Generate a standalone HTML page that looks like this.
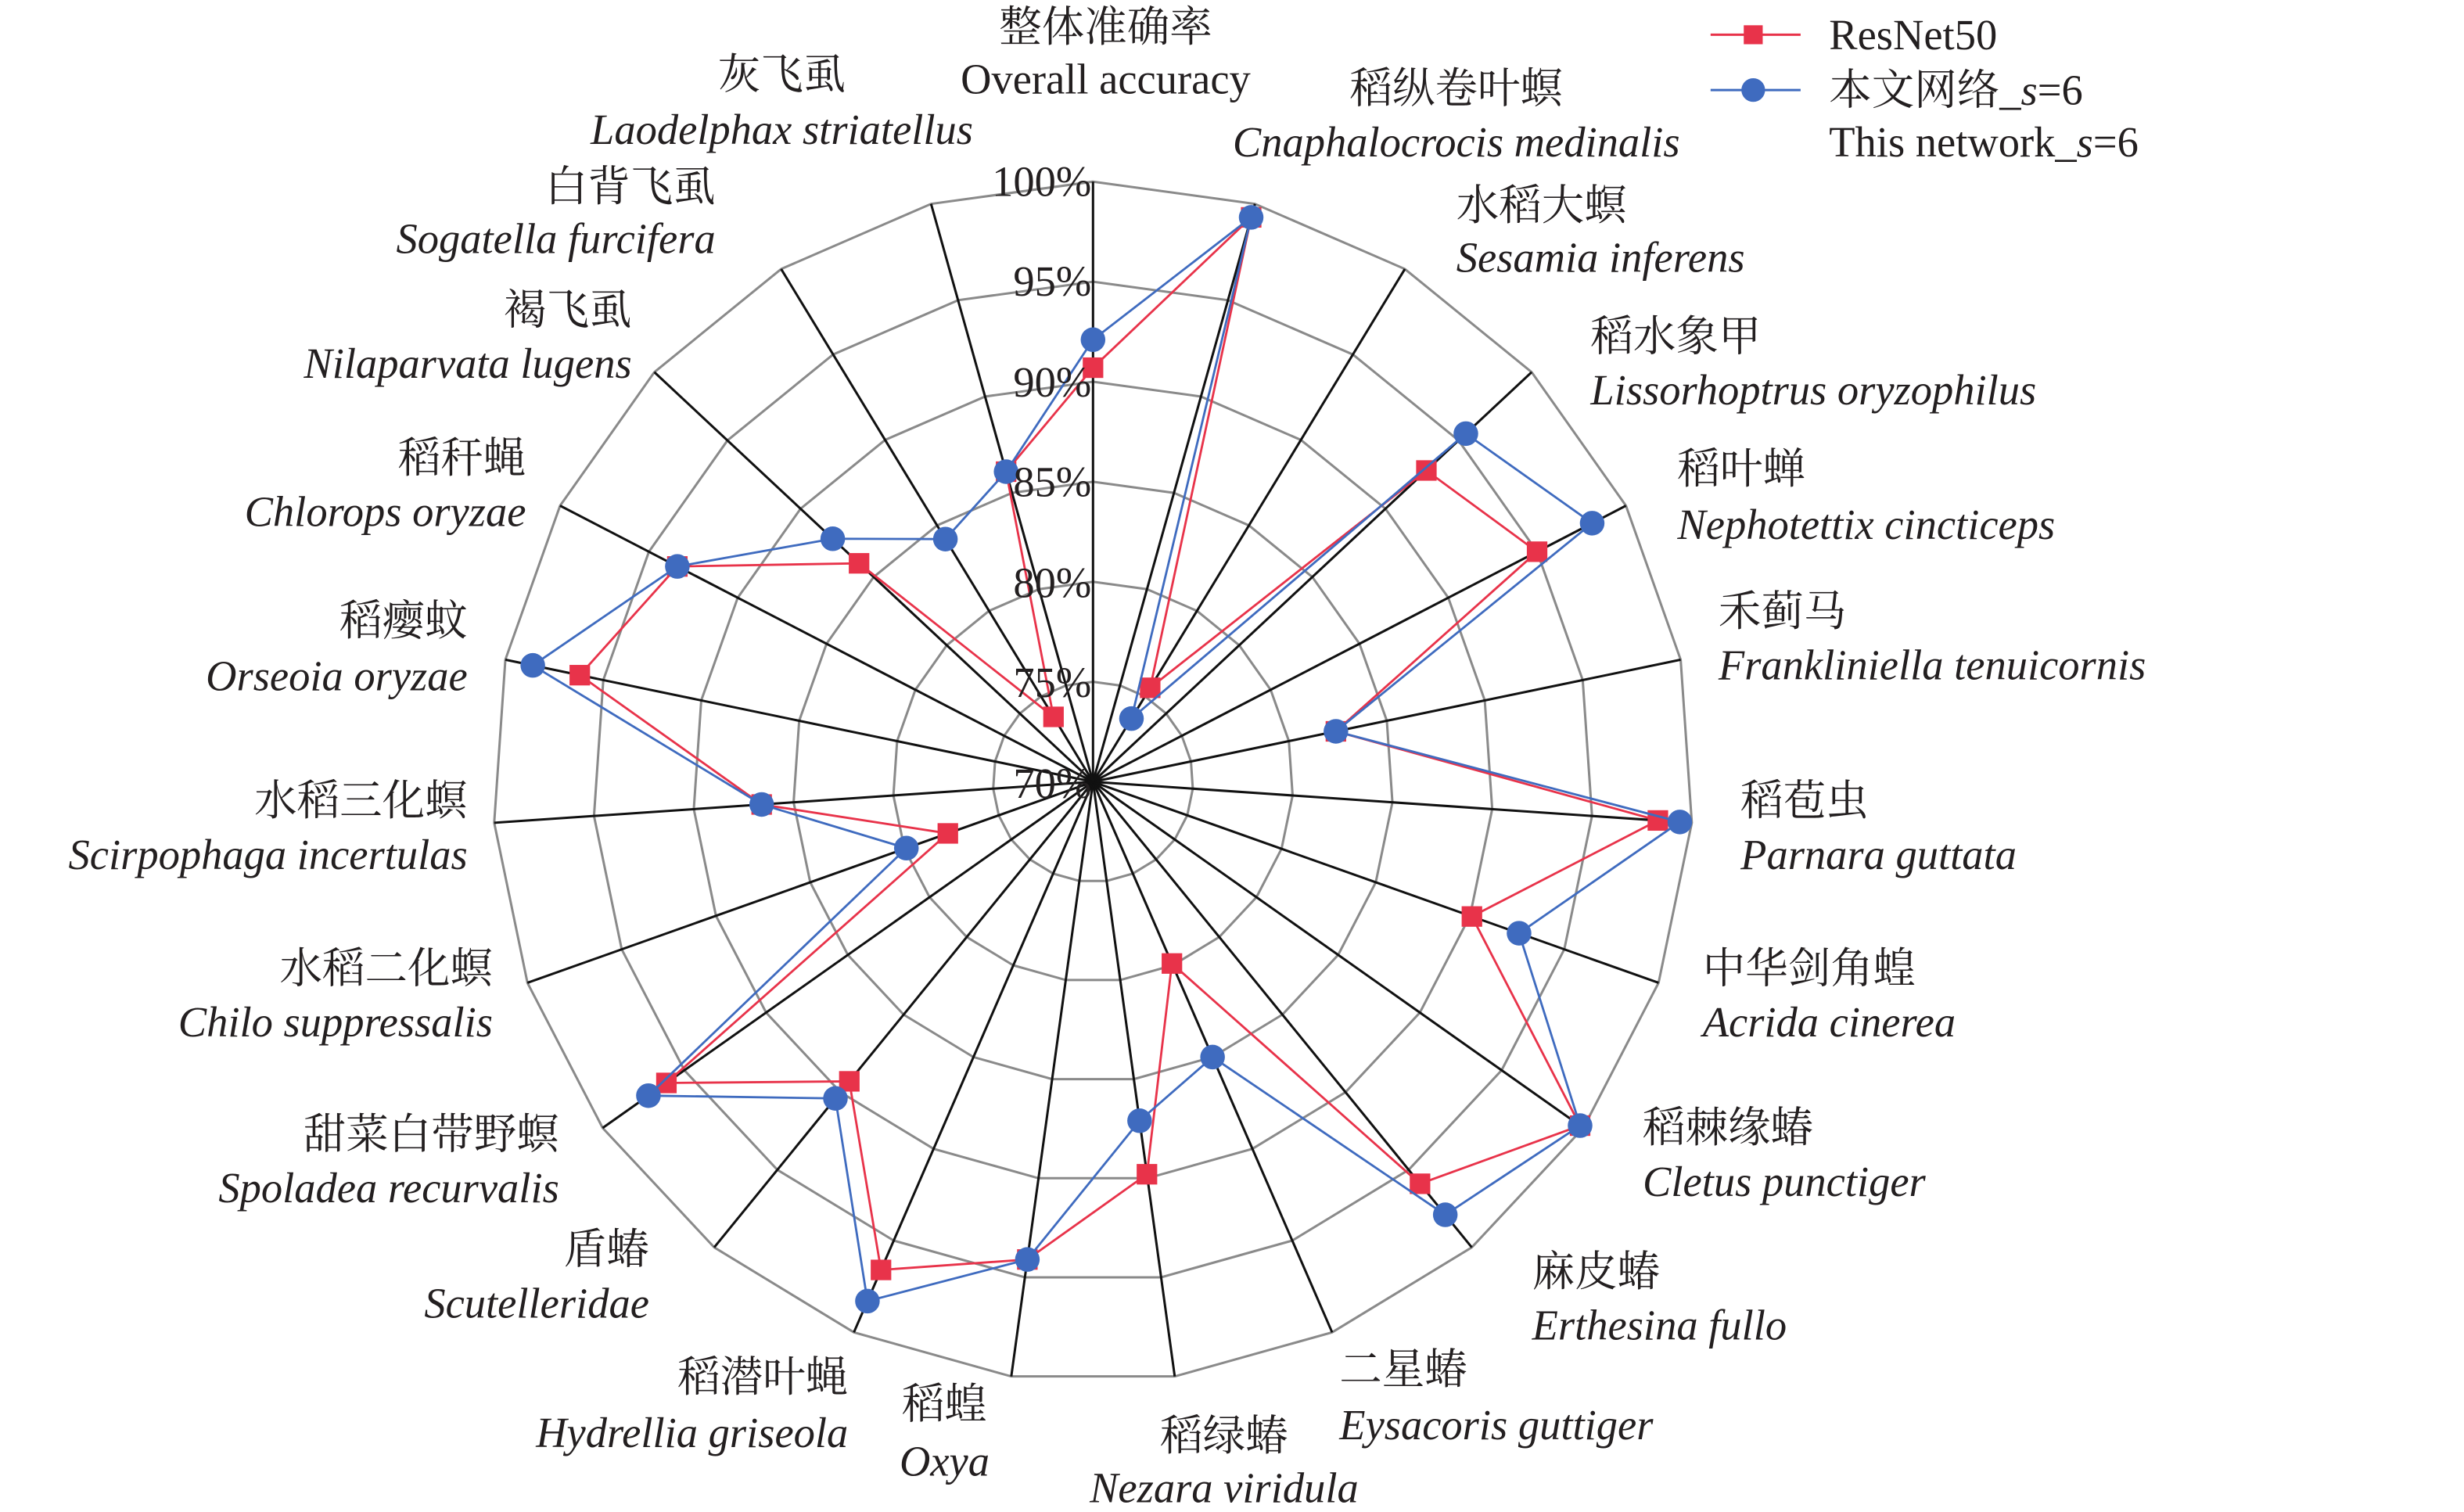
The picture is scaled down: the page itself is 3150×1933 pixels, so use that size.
<!DOCTYPE html>
<html><head><meta charset="utf-8"><style>
html,body{margin:0;padding:0;background:#fff;}
svg{display:block;}
text{font-family:"Liberation Serif","Noto Serif CJK SC",serif;font-size:27px;fill:#231f20;dominant-baseline:central;}
.i{font-style:italic;}
</style></head><body>
<svg id="s" width="3150" height="1933" viewBox="0 0 1560 957.3" preserveAspectRatio="none" xmlns="http://www.w3.org/2000/svg">
<g id="grid"></g>
<g id="series"></g>
<g text-anchor="end">
<text x="691" y="115">100%</text>
<text x="691" y="178">95%</text>
<text x="691" y="242">90%</text>
<text x="691" y="305">85%</text>
<text x="691" y="369">80%</text>
<text x="691" y="432">75%</text>
<text x="691" y="496">70%</text>
</g>
<g text-anchor="middle">
<text x="700" y="17">整体准确率</text>
<text x="700" y="50">Overall accuracy</text>
<text x="495" y="47">灰飞虱</text>
<text class="i" x="495" y="82">Laodelphax striatellus</text>
<text x="922" y="56">稻纵卷叶螟</text>
<text class="i" x="922" y="90">Cnaphalocrocis medinalis</text>
<text x="775" y="909">稻绿蝽</text>
<text class="i" x="775" y="942">Nezara viridula</text>
<text x="598" y="889">稻蝗</text>
<text class="i" x="598" y="925">Oxya</text>
</g>
<g text-anchor="start">
<text x="922" y="130">水稻大螟</text>
<text class="i" x="922" y="163">Sesamia inferens</text>
<text x="1007" y="213">稻水象甲</text>
<text class="i" x="1007" y="247">Lissorhoptrus oryzophilus</text>
<text x="1062" y="297">稻叶蝉</text>
<text class="i" x="1062" y="332">Nephotettix cincticeps</text>
<text x="1088" y="387">禾蓟马</text>
<text class="i" x="1088" y="421">Frankliniella tenuicornis</text>
<text x="1102" y="507">稻苞虫</text>
<text class="i" x="1102" y="541">Parnara guttata</text>
<text x="1078" y="613">中华剑角蝗</text>
<text class="i" x="1078" y="647">Acrida cinerea</text>
<text x="1040" y="714">稻棘缘蝽</text>
<text class="i" x="1040" y="748">Cletus punctiger</text>
<text x="970" y="805">麻皮蝽</text>
<text class="i" x="970" y="839">Erthesina fullo</text>
<text x="848" y="867">二星蝽</text>
<text class="i" x="848" y="902">Eysacoris guttiger</text>
<text x="1158" y="22">ResNet50</text>
<text x="1158" y="57">本文网络_<tspan class="i">s</tspan>=6</text>
<text x="1158" y="90">This network_<tspan class="i">s</tspan>=6</text>
</g>
<g text-anchor="end">
<text x="453" y="118">白背飞虱</text>
<text class="i" x="453" y="151">Sogatella furcifera</text>
<text x="400" y="196">褐飞虱</text>
<text class="i" x="400" y="230">Nilaparvata lugens</text>
<text x="333" y="290">稻秆蝇</text>
<text class="i" x="333" y="324">Chlorops oryzae</text>
<text x="296" y="393">稻瘿蚊</text>
<text class="i" x="296" y="428">Orseoia oryzae</text>
<text x="296" y="507">水稻三化螟</text>
<text class="i" x="296" y="541">Scirpophaga incertulas</text>
<text x="312" y="613">水稻二化螟</text>
<text class="i" x="312" y="647">Chilo suppressalis</text>
<text x="354" y="718">甜菜白带野螟</text>
<text class="i" x="354" y="752">Spoladea recurvalis</text>
<text x="411" y="791">盾蝽</text>
<text class="i" x="411" y="825">Scutelleridae</text>
<text x="537" y="872">稻潜叶蝇</text>
<text class="i" x="537" y="907">Hydrellia griseola</text>
</g>
<line x1="1083" y1="22" x2="1140" y2="22" stroke="#e8334a" stroke-width="1.5"/>
<rect x="1104" y="16" width="12" height="12" fill="#e8334a"/>
<line x1="1083" y1="57" x2="1140" y2="57" stroke="#3f6bbf" stroke-width="1.5"/>
<circle cx="1110" cy="57" r="7.5" fill="#3f6bbf"/>
</svg>
<script>
(function(){
var NS="http://www.w3.org/2000/svg",cx=692,cy=495,R=380,N=23;
var red=[90.7,99.3,75.5,92.8,95.0,82.4,98.3,90.1,99.8,95.9,79.9,89.8,94.1,96.6,89.3,96.1,77.7,86.6,96.2,93.4,86.0,73.8,86.1];
var blue=[92.1,99.3,73.7,95.5,98.1,82.4,99.4,92.6,99.8,97.9,85.0,87.1,94.1,98.3,90.4,97.2,79.9,86.6,98.6,93.4,87.8,84.2,86.1];
function pt(i,v){var a=i*2*Math.PI/N,r=(v-70)/30*R;return [cx+r*Math.sin(a),cy-r*Math.cos(a)];}
function el(t,at,p){var e=document.createElementNS(NS,t);for(var k in at)e.setAttribute(k,at[k]);p.appendChild(e);return e;}
var g=document.getElementById("grid"),s=document.getElementById("series");
for(var k=1;k<=6;k++){var v=70+5*k,pts=[];for(var i=0;i<N;i++)pts.push(pt(i,v).join(","));
el("polygon",{points:pts.join(" "),fill:"none",stroke:"#8a8a8a","stroke-width":1.5},g);}
for(var i=0;i<N;i++){var p=pt(i,100);el("line",{x1:cx,y1:cy,x2:p[0],y2:p[1],stroke:"#111","stroke-width":1.5},g);}
function series(d,col,mk){var pts=[];for(var i=0;i<N;i++)pts.push(pt(i,d[i]).join(","));
el("polygon",{points:pts.join(" "),fill:"none",stroke:col,"stroke-width":1.4},s);
for(var i=0;i<N;i++){var p=pt(i,d[i]);if(mk=="sq")el("rect",{x:p[0]-6.5,y:p[1]-6.5,width:13,height:13,fill:col},s);
else el("circle",{cx:p[0],cy:p[1],r:7.8,fill:col},s);}}
series(red,"#e8334a","sq");series(blue,"#3f6bbf","c");
})();
</script>
</body></html>
